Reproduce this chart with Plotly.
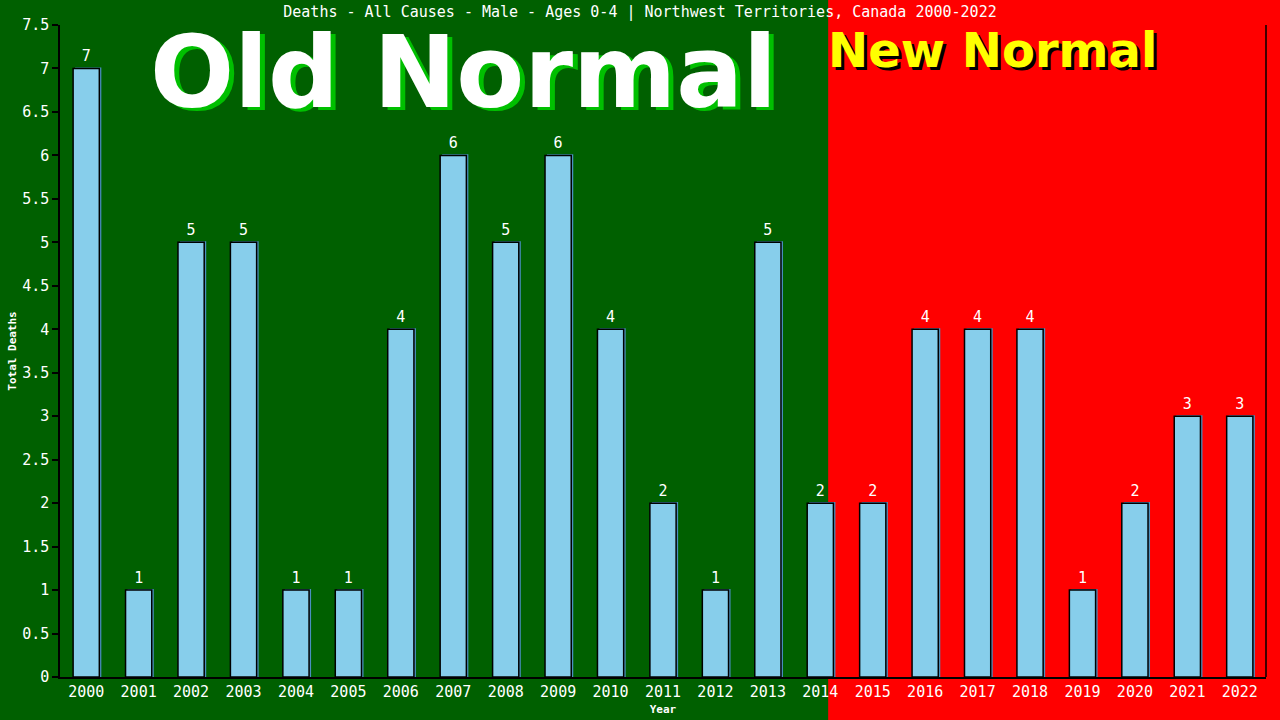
"""Deaths - All Causes - Male - Ages 0-4, Northwest Territories: bar chart
with the green "Old Normal" / red "New Normal" backdrop."""
import plotly.graph_objects as go

YEARS = [str(y) for y in range(2000, 2023)]
DEATHS = [7, 1, 5, 5, 1, 1, 4, 6, 5, 6, 4, 2, 1, 5, 2, 2, 4, 4, 4, 1, 2, 3, 3]
Y_TICKS = [i * 0.5 for i in range(16)]
NEW_NORMAL_FROM = 14.15   # position on the category axis where the red part begins

TITLE = 'Deaths - All Causes - Male - Ages 0-4 | Northwest Territories, Canada 2000-2022'
MONO = 'DejaVu Sans Mono, Liberation Mono, monospace'
BOLD = 'DejaVu Sans, Verdana, sans-serif'

GREEN = '#006000'
RED = '#ff0000'
BAR = '#87ceeb'

W, H = 1280, 720
M = dict(l=60, r=14, t=25, b=43)

x_lo, x_hi = -0.5, len(YEARS) - 0.5
red_x0 = (NEW_NORMAL_FROM - x_lo) / (x_hi - x_lo)
plot_w = W - M['l'] - M['r']
plot_h = H - M['t'] - M['b']

fig = go.Figure()

# thin blue shadow behind each bar (right + top edge)
fig.add_trace(go.Bar(
    x=list(range(len(YEARS))), y=[v + 0.012 for v in DEATHS],
    width=0.5, offset=-0.25 + 2 / (plot_w / len(YEARS)),
    marker=dict(color='#4a8fbf', line=dict(width=0)),
    hoverinfo='skip', showlegend=False,
))
fig.add_trace(go.Bar(
    x=list(range(len(YEARS))), y=DEATHS,
    width=0.5, offset=-0.25,
    marker=dict(color=BAR, line=dict(color='black', width=1.5)),
    text=[str(v) for v in DEATHS], textposition='outside',
    textfont=dict(family=MONO, size=15, color='white'),
    cliponaxis=False, showlegend=False,
))

# red "new normal" backdrop, running off the page edges
fig.add_shape(type='rect', xref='paper', yref='paper',
              x0=red_x0, x1=1.2, y0=-0.3, y1=1.3,
              fillcolor=RED, line_width=0, layer='below')

# big labels with drop shadows
def big_text(text, x, y, size, color, shadow, dx, dy):
    for (ox, oy, c) in ((dx, dy, shadow), (0, 0, color)):
        fig.add_annotation(text=f'<b>{text}</b>', xref='paper', yref='paper',
                           x=x, y=y, xshift=ox, yshift=-oy, showarrow=False,
                           xanchor='center', yanchor='middle',
                           font=dict(family=BOLD, size=size, color=c))

big_text('Old Normal', (463 - M['l']) / plot_w, 1 - (72 - M['t']) / plot_h,
         99, 'white', '#00c000', 5, 3)
big_text('New Normal', (992 - M['l']) / plot_w, 1 - (50 - M['t']) / plot_h,
         48, '#ffff00', 'black', 3, 3)

fig.update_layout(
    width=W, height=H,
    margin=dict(M, autoexpand=False),
    paper_bgcolor=GREEN, plot_bgcolor='rgba(0,0,0,0)',
    barmode='overlay',
    font=dict(family=MONO, color='white', size=15),
    title=dict(text=TITLE, x=0.5, xanchor='center', y=1 - 12 / H, yanchor='middle',
               font=dict(family=MONO, size=15, color='white')),
    showlegend=False,
)
fig.update_xaxes(
    range=[x_lo, x_hi], tickvals=list(range(len(YEARS))), ticktext=YEARS,
    showgrid=False, zeroline=False, ticks='', automargin=False,
    showline=True, linecolor='black', linewidth=1.5, mirror=False,
    tickfont=dict(family=MONO, size=15, color='white'),
    title=dict(text='<b>Year</b>', standoff=6,
               font=dict(family=MONO, size=11, color='white')),
)
fig.update_yaxes(
    range=[0, 7.5], tickvals=Y_TICKS, ticktext=[f'{t:g}' for t in Y_TICKS],
    showgrid=False, zeroline=False, automargin=False,
    ticks='outside', ticklen=6, tickcolor='black', tickwidth=1.5,
    showline=True, linecolor='black', linewidth=1.5,
    tickfont=dict(family=MONO, size=15, color='white'),
    title=dict(text='<b>Total Deaths</b>', standoff=3,
               font=dict(family=MONO, size=11, color='white')),
)
# right-hand frame line
fig.add_shape(type='line', xref='paper', yref='paper', x0=1, x1=1, y0=0, y1=1,
              line=dict(color='black', width=1.5))

# page body margin would push the 1280x720 figure 8px right and down
fig.write_html('out.html', config={'displayModeBar': False},
               post_script="document.body.style.margin='0';")
